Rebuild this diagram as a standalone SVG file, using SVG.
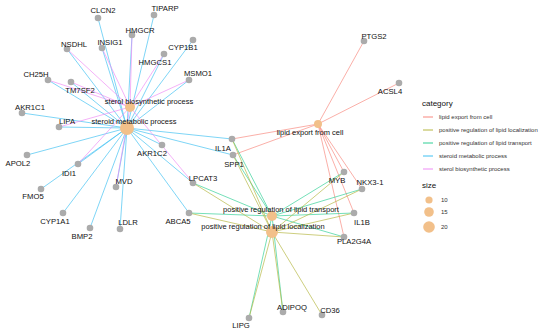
<svg xmlns="http://www.w3.org/2000/svg" width="550" height="335" viewBox="0 0 550 335">
<style>
.e line{stroke-width:0.9;stroke-opacity:0.75;fill:none}
.lec{stroke:#F8877E}
.prll{stroke:#B5B640}
.prlt{stroke:#2FCF95}
.smp{stroke:#3EC0F2}
.sbp{stroke:#EE8BF5}
.g circle{fill:#ABABAB}
.h circle{fill:#F2C08A}
text{font-family:"Liberation Sans",Arial,sans-serif;font-size:7.7px;fill:#111;text-anchor:middle}
.h text{font-size:7.5px}
.lg text{font-size:6px;text-anchor:start;fill:#333}
.lg .t{font-size:8px;fill:#111}
</style>
<rect width="550" height="335" fill="#ffffff"/>
<g id="connectors" class="e">
<g class="smp">
<line x1="127" y1="128" x2="98" y2="18"/>
<line x1="127" y1="128" x2="154" y2="15"/>
<line x1="127" y1="128" x2="132" y2="35"/>
<line x1="127" y1="128" x2="67" y2="49"/>
<line x1="127" y1="128" x2="102" y2="48"/>
<line x1="127" y1="128" x2="193" y2="40"/>
<line x1="127" y1="128" x2="164" y2="54"/>
<line x1="127" y1="128" x2="48" y2="80"/>
<line x1="127" y1="128" x2="189" y2="80"/>
<line x1="127" y1="128" x2="71" y2="82"/>
<line x1="127" y1="128" x2="22" y2="113"/>
<line x1="127" y1="128" x2="59" y2="127"/>
<line x1="127" y1="128" x2="27" y2="155"/>
<line x1="127" y1="128" x2="78" y2="164"/>
<line x1="127" y1="128" x2="162" y2="145"/>
<line x1="127" y1="128" x2="116" y2="187"/>
<line x1="127" y1="128" x2="41" y2="189"/>
<line x1="127" y1="128" x2="63" y2="213"/>
<line x1="127" y1="128" x2="120" y2="229"/>
<line x1="127" y1="128" x2="90" y2="228"/>
<line x1="127" y1="128" x2="189" y2="213"/>
<line x1="127" y1="128" x2="193" y2="183"/>
<line x1="127" y1="128" x2="232" y2="139"/>
<line x1="127" y1="128" x2="233" y2="155"/>
</g>
<g class="sbp">
<line x1="130" y1="107" x2="132" y2="35"/>
<line x1="130" y1="107" x2="67" y2="49"/>
<line x1="130" y1="107" x2="102" y2="48"/>
<line x1="130" y1="107" x2="164" y2="54"/>
<line x1="130" y1="107" x2="48" y2="80"/>
<line x1="130" y1="107" x2="189" y2="80"/>
<line x1="130" y1="107" x2="71" y2="82"/>
<line x1="130" y1="107" x2="59" y2="127"/>
<line x1="130" y1="107" x2="78" y2="164"/>
<line x1="130" y1="107" x2="116" y2="187"/>
<line x1="130" y1="107" x2="193" y2="183"/>
</g>
<g class="lec">
<line x1="318" y1="124" x2="364" y2="41"/>
<line x1="318" y1="124" x2="399" y2="83"/>
<line x1="318" y1="124" x2="232" y2="139"/>
<line x1="318" y1="124" x2="233" y2="155"/>
<line x1="318" y1="124" x2="362" y2="189"/>
<line x1="318" y1="124" x2="354" y2="213"/>
<line x1="318" y1="124" x2="344" y2="237"/>
<line x1="318" y1="124" x2="344" y2="172"/>
</g>
<g class="prlt">
<line x1="272" y1="216" x2="193" y2="183"/>
<line x1="272" y1="216" x2="189" y2="213"/>
<line x1="272" y1="216" x2="232" y2="139"/>
<line x1="272" y1="216" x2="233" y2="155"/>
<line x1="272" y1="216" x2="344" y2="172"/>
<line x1="272" y1="216" x2="362" y2="189"/>
<line x1="272" y1="216" x2="354" y2="213"/>
<line x1="272" y1="216" x2="344" y2="237"/>
<line x1="272" y1="216" x2="249" y2="318"/>
<line x1="272" y1="216" x2="283" y2="312"/>
</g>
<g class="prll">
<line x1="272" y1="232" x2="193" y2="183"/>
<line x1="272" y1="232" x2="189" y2="213"/>
<line x1="272" y1="232" x2="232" y2="139"/>
<line x1="272" y1="232" x2="233" y2="155"/>
<line x1="272" y1="232" x2="344" y2="172"/>
<line x1="272" y1="232" x2="362" y2="189"/>
<line x1="272" y1="232" x2="354" y2="213"/>
<line x1="272" y1="232" x2="344" y2="237"/>
<line x1="272" y1="232" x2="249" y2="318"/>
<line x1="272" y1="232" x2="283" y2="312"/>
<line x1="272" y1="232" x2="322" y2="315"/>
</g>
</g>
<g class="g">
<g id="n-CLCN2"><circle cx="98" cy="18" r="3.3"/><text x="103" y="13">CLCN2</text></g>
<g id="n-TIPARP"><circle cx="154" cy="15" r="3.3"/><text x="165" y="11">TIPARP</text></g>
<g id="n-HMGCR"><circle cx="132" cy="35" r="3.3"/><text x="140" y="33">HMGCR</text></g>
<g id="n-NSDHL"><circle cx="67" cy="49" r="3.3"/><text x="74" y="47">NSDHL</text></g>
<g id="n-INSIG1"><circle cx="102" cy="48" r="3.3"/><text x="110" y="45">INSIG1</text></g>
<g id="n-CYP1B1"><circle cx="193" cy="40" r="3.3"/><text x="183" y="50">CYP1B1</text></g>
<g id="n-HMGCS1"><circle cx="164" cy="54" r="3.3"/><text x="155" y="65">HMGCS1</text></g>
<g id="n-CH25H"><circle cx="48" cy="80" r="3.3"/><text x="36" y="77">CH25H</text></g>
<g id="n-MSMO1"><circle cx="189" cy="80" r="3.3"/><text x="198" y="76">MSMO1</text></g>
<g id="n-TM7SF2"><circle cx="71" cy="82" r="3.3"/><text x="80" y="93">TM7SF2</text></g>
<g id="n-AKR1C1"><circle cx="22" cy="113" r="3.3"/><text x="30" y="110">AKR1C1</text></g>
<g id="n-LIPA"><circle cx="59" cy="127" r="3.3"/><text x="67" y="124">LIPA</text></g>
<g id="n-APOL2"><circle cx="27" cy="155" r="3.3"/><text x="18" y="166">APOL2</text></g>
<g id="n-IDI1"><circle cx="78" cy="164" r="3.3"/><text x="69" y="176">IDI1</text></g>
<g id="n-AKR1C2"><circle cx="162" cy="145" r="3.3"/><text x="152" y="156">AKR1C2</text></g>
<g id="n-MVD"><circle cx="116" cy="187" r="3.3"/><text x="124" y="184">MVD</text></g>
<g id="n-FMO5"><circle cx="41" cy="189" r="3.3"/><text x="33" y="199">FMO5</text></g>
<g id="n-CYP1A1"><circle cx="63" cy="213" r="3.3"/><text x="55" y="224">CYP1A1</text></g>
<g id="n-LDLR"><circle cx="120" cy="229" r="3.3"/><text x="128" y="225">LDLR</text></g>
<g id="n-BMP2"><circle cx="90" cy="228" r="3.3"/><text x="82" y="239">BMP2</text></g>
<g id="n-ABCA5"><circle cx="189" cy="213" r="3.3"/><text x="178" y="224">ABCA5</text></g>
<g id="n-LPCAT3"><circle cx="193" cy="183" r="3.3"/><text x="203" y="181">LPCAT3</text></g>
<g id="n-IL1A"><circle cx="232" cy="139" r="3.3"/><text x="223" y="151">IL1A</text></g>
<g id="n-SPP1"><circle cx="233" cy="155" r="3.3"/><text x="234" y="167">SPP1</text></g>
<g id="n-MYB"><circle cx="344" cy="172" r="3.3"/><text x="337" y="183">MYB</text></g>
<g id="n-NKX3-1"><circle cx="362" cy="189" r="3.3"/><text x="370" y="185">NKX3-1</text></g>
<g id="n-IL1B"><circle cx="354" cy="213" r="3.3"/><text x="362" y="225">IL1B</text></g>
<g id="n-PLA2G4A"><circle cx="344" cy="237" r="3.3"/><text x="354" y="244">PLA2G4A</text></g>
<g id="n-ADIPOQ"><circle cx="283" cy="312" r="3.3"/><text x="292" y="310">ADIPOQ</text></g>
<g id="n-CD36"><circle cx="322" cy="315" r="3.3"/><text x="330" y="313">CD36</text></g>
<g id="n-LIPG"><circle cx="249" cy="318" r="3.3"/><text x="241" y="328">LIPG</text></g>
<g id="n-PTGS2"><circle cx="364" cy="41" r="3.3"/><text x="374" y="39">PTGS2</text></g>
<g id="n-ACSL4"><circle cx="399" cy="83" r="3.3"/><text x="390" y="94">ACSL4</text></g>
</g>
<g class="h">
<g id="h-sbp"><circle cx="130" cy="107" r="5"/><text x="149" y="104">sterol biosynthetic process</text></g>
<g id="h-smp"><circle cx="127" cy="128" r="7"/><text x="134" y="124">steroid metabolic process</text></g>
<g id="h-lec"><circle cx="318" cy="124" r="4"/><text x="310" y="135">lipid export from cell</text></g>
<g id="h-prlt"><circle cx="272" cy="216" r="5"/><text x="281" y="212">positive regulation of lipid transport</text></g>
<g id="h-prll"><circle cx="272" cy="232" r="6"/><text x="263" y="229">positive regulation of lipid localization</text></g>
</g>
<g id="legend" class="lg">
<text class="t" x="422" y="106">category</text>
<line x1="423" y1="117" x2="433" y2="117" class="lec" stroke-width="1"/>
<text x="439" y="119">lipid export from cell</text>
<line x1="423" y1="130" x2="433" y2="130" class="prll" stroke-width="1"/>
<text x="439" y="132">positive regulation of lipid localization</text>
<line x1="423" y1="143" x2="433" y2="143" class="prlt" stroke-width="1"/>
<text x="439" y="145">positive regulation of lipid transport</text>
<line x1="423" y1="156" x2="433" y2="156" class="smp" stroke-width="1"/>
<text x="439" y="158">steroid metabolic process</text>
<line x1="423" y1="169" x2="433" y2="169" class="sbp" stroke-width="1"/>
<text x="439" y="171">sterol biosynthetic process</text>
<text class="t" x="422" y="188">size</text>
<circle cx="429" cy="200" r="3.6" fill="#F2C08A"/>
<text x="441" y="202">10</text>
<circle cx="429" cy="212" r="4.8" fill="#F2C08A"/>
<text x="441" y="214">15</text>
<circle cx="429" cy="227" r="5.8" fill="#F2C08A"/>
<text x="441" y="229">20</text>
</g>
</svg>
